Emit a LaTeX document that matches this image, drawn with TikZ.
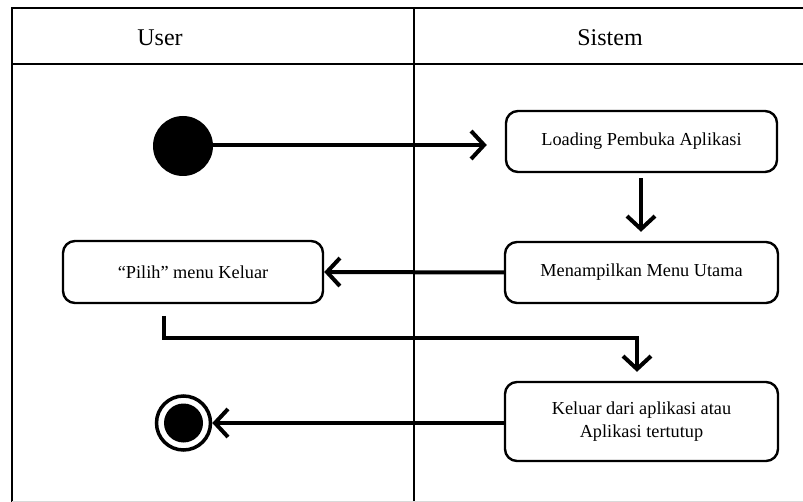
\documentclass[tikz,border=0pt]{standalone}
\usepackage{fontspec}
\setmainfont{Liberation Serif}
\usetikzlibrary{arrows.meta,calc}
\begin{document}
\begin{tikzpicture}[x=1pt,y=-1pt,
  lane/.style={line width=2.6pt},
  action/.style={draw, rectangle, rounded corners=12pt, line width=2.4pt,
    align=center, font=\fontsize{18.3}{23.5}\selectfont, inner sep=0pt},
  flow/.style={line width=4pt, -{Straight Barb[length=13pt,width=28pt,line width=4pt]}},
  head/.style={font=\fontsize{24}{27}\selectfont}]
  \useasboundingbox (0,0) rectangle (803,502);
  \fill[white] (0,0) rectangle (803,502);

  % swimlane frame
  \draw[lane] (810,8) -- (12,8) -- (12,510);
  \draw[lane] (12,64) -- (810,64);
  \draw[lane] (414,8) -- (414,510);
  \draw[gray!30, line width=1pt] (12,501) -- (810,501);

  \node[head] (huser) at (160,38) {User};
  \node[head] (hsys) at (610,38) {Sistem};

  % start and end states
  \node[circle, fill=black, inner sep=0pt, minimum size=60pt] (start) at (183,146) {};
  \node[circle, draw, line width=3.5pt, inner sep=0pt, minimum size=54pt] (stop) at (183.5,423) {};
  \fill (stop.center) circle (19.5pt);

  % actions
  \node[action, minimum width=271pt, minimum height=61pt] (load) at (641.5,141.5) {Loading Pembuka Aplikasi};
  \node[action, minimum width=273pt, minimum height=61pt] (menu) at (641.5,272.5) {Menampilkan Menu Utama};
  \node[action, minimum width=260pt, minimum height=62pt] (pilih) at (193,272) {``Pilih'' menu Keluar};
  \node[action, minimum width=273pt, minimum height=79pt] (keluar) at (641.5,421.5) {Keluar dari aplikasi atau\\Aplikasi tertutup};

  % transitions
  \coordinate (k1) at (164,316);
  \coordinate (k2) at (637,338);
  \draw[flow, shorten >=18pt] (start.east |- 0,145) -- (load.west |- 0,145);
  \draw[flow, shorten <=5pt, shorten >=9pt] (load.south -| 641,0) -- (menu.north -| 641,0);
  \draw[flow] (menu.west) -- (pilih.east);
  \draw[flow, shorten >=9pt] (k1) |- (k2) -- (k2 |- keluar.north);
  \draw[flow] (keluar.west |- stop) -- (stop.east);
\end{tikzpicture}
\end{document}
